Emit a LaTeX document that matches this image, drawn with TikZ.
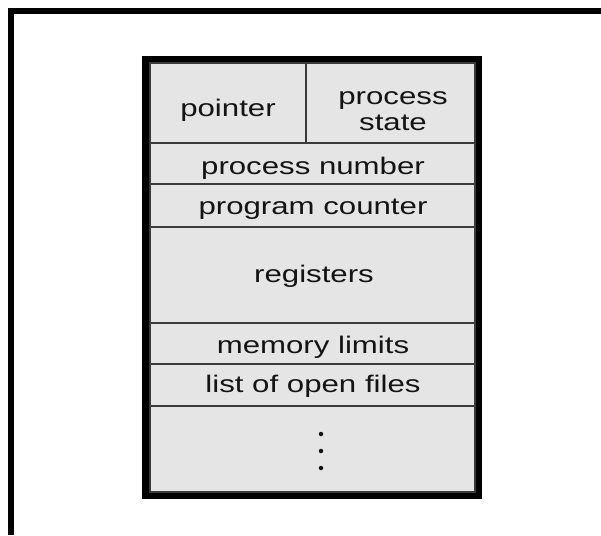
\documentclass[tikz,border=0pt]{standalone}
\usepackage{fontspec}
\setmainfont[FakeStretch=1.3]{Liberation Sans}
\definecolor{cellfill}{HTML}{E5E5E5}
\definecolor{gridline}{HTML}{3A3A3A}
\definecolor{txt}{HTML}{141414}
\begin{document}
\begin{tikzpicture}[x=1pt,y=-1pt,
  lbl/.style={anchor=base,text=txt,inner sep=0pt,font=\fontsize{24}{26}\selectfont,align=center},
  grid/.style={draw=gridline,line width=1.6pt},
  dotmark/.style={circle,fill=txt,inner sep=0pt,minimum size=4.5pt}]
\useasboundingbox (0,0) rectangle (601,535);
% outer frame (top and left only)
\fill[black] (8,8) rectangle (601,14);
\fill[black] (8,8) rectangle (14,535);
% PCB box
\fill[black] (142,56) rectangle (482,499);
\fill[cellfill] (149,62) rectangle (476,493);
\draw[grid] (149.8,62.8) rectangle (475.2,492.2);
\draw[grid] (149,143) -- (476,143);
\draw[grid] (149,184) -- (476,184);
\draw[grid] (149,227) -- (476,227);
\draw[grid] (149,323) -- (476,323);
\draw[grid] (149,364) -- (476,364);
\draw[grid] (149,406) -- (476,406);
\draw[grid] (306,62) -- (306,143);
% labels
\node[lbl] (ptr) at (228,116) {pointer};
\node[lbl] (pst) at (393,104) {process};
\node[lbl] (pst2) at (393,130) {state};
\node[lbl] (pnum) at (313,174) {process number};
\node[lbl] (pc) at (313,214) {program counter};
\node[lbl] (reg) at (314,282) {registers};
\node[lbl] (mem) at (313,353) {memory limits};
\node[lbl] (files) at (313,392) {list of open files};
\node[dotmark] (d1) at (321,434) {};
\node[dotmark] (d2) at (321,451) {};
\node[dotmark] (d3) at (321,468) {};
\end{tikzpicture}
\end{document}
